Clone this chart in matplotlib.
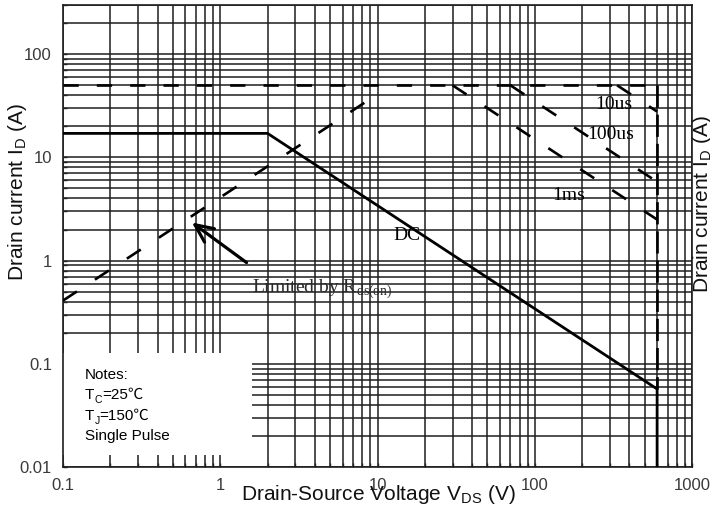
import matplotlib
matplotlib.use("Agg")
import matplotlib.pyplot as plt
from matplotlib.patches import Rectangle
from matplotlib.ticker import FixedLocator, FixedFormatter, NullFormatter

plt.rcParams['font.family'] = ['Liberation Sans', 'DejaVu Sans']
plt.rcParams['mathtext.fontset'] = 'custom'
plt.rcParams['mathtext.rm'] = 'Liberation Sans'
plt.rcParams['lines.scale_dashes'] = False

# axis ticks
x_ticks = [0.1, 1, 10, 100, 1000]
x_labels = ["0.1", "1", "10", "100", "1000"]
y_ticks = [0.01, 0.1, 1, 10, 100]
y_labels = ["0.01", "0.1", "1", "10", "100"]

# DC operation (package limit, then thermal limit, then BVdss)
dc_v = [0.1, 2.0, 600, 600]
dc_i = [17.1, 17.1, 0.057, 0.01]
# Rds(on) limit
rds_v = [0.1, 10]
rds_i = [0.41, 41]
# pulsed current limit / BVdss limit
ilim_v = [0.1, 600]
ilim_i = [50, 50]
vlim_v = [600, 600]
vlim_i = [50, 0.057]
# single pulse lines
p10us_v = [334, 600]
p10us_i = [50, 27.8]
p100us_v = [70, 600]
p100us_i = [50, 5.8]
p1ms_v = [30, 600]
p1ms_i = [50, 2.5]

W, H = 710, 513


def px(x, y):
    return x / W, 1 - y / H


fig = plt.figure(figsize=(W / 100, H / 100), dpi=100)
ax = fig.add_axes([63 / W, 1 - 467 / H, 629 / W, 462 / H])
ax.set_xscale('log')
ax.set_yscale('log')
ax.set_xlim(0.1, 1000)
ax.set_ylim(0.01, 300)

ax.xaxis.set_major_locator(FixedLocator(x_ticks))
ax.xaxis.set_major_formatter(FixedFormatter(x_labels))
ax.yaxis.set_major_locator(FixedLocator(y_ticks))
ax.yaxis.set_major_formatter(FixedFormatter(y_labels))
ax.xaxis.set_minor_formatter(NullFormatter())
ax.yaxis.set_minor_formatter(NullFormatter())
ax.tick_params(which='both', direction='in', length=3, width=1, color='#222222',
               labelsize=12, labelcolor='#3a3a3a', pad=8)
ax.set_axisbelow(True)
ax.grid(True, which='both', color='#1e1e1e', lw=1.1)
for s in ax.spines.values():
    s.set_color('#1e1e1e')
    s.set_linewidth(1.2)

# white box behind the notes
ax.add_patch(Rectangle((0.1, 0.0131), 1.585 - 0.1, 0.128 - 0.0131,
                       facecolor='white', edgecolor='none', zorder=1))

k = 'black'
ax.plot(dc_v, dc_i, color=k, lw=2.0, zorder=3)
ax.plot(rds_v, rds_i, color=k, lw=1.9, dashes=(12, 15.5), zorder=3)
ax.plot(ilim_v, ilim_i, color=k, lw=1.9, dashes=(11, 13), zorder=3)
ax.plot(vlim_v, vlim_i, color=k, lw=1.9, dashes=(16, 5), zorder=3)
for v, i in [(p10us_v, p10us_i), (p100us_v, p100us_i), (p1ms_v, p1ms_i)]:
    ax.plot(v, i, color=k, lw=1.9, dashes=(12, 15.5), zorder=3)

serif = 'Liberation Serif'
ax.text(320, 32.7, "10us", family=serif, fontsize=14, ha='center', va='center', zorder=4)
ax.text(306, 16.7, "100us", family=serif, fontsize=14, ha='center', va='center', zorder=4)
ax.text(165, 4.28, "1ms", family=serif, fontsize=14, ha='center', va='center', zorder=4)
ax.text(15.5, 1.75, "DC", family=serif, fontsize=14, ha='center', va='center', zorder=4)

plt.rcParams['mathtext.rm'] = 'Liberation Serif'
ax.text(1.585, 0.523, r"Limited by R$_{\mathregular{ds(on)}}$", family=serif,
        fontsize=14, color='#2a2a2a', ha='left', va='center', zorder=4)

ax.annotate('', xy=(0.66, 2.34), xytext=(1.47, 0.957),
            arrowprops=dict(arrowstyle='->,head_length=1.3,head_width=0.6',
                            lw=2.3, color=k, shrinkA=0, shrinkB=0), zorder=4)

# notes
notes_font = ['Liberation Sans', 'Noto Sans CJK SC']


def rich_text(x, y, parts, size=11):
    first = fig.text(*px(x, y), parts[0][0], fontsize=size, family=notes_font,
                     va='baseline', ha='left', zorder=5)
    prev = first
    for s, sub in parts[1:]:
        prev = fig.add_artist(matplotlib.text.Annotation(
            s, xy=(1, 0), xycoords=(prev, first),
            xytext=(0, -2.2 if sub else 0), textcoords='offset points',
            fontsize=size * 0.68 if sub else size, family=notes_font,
            va='bottom', ha='left', zorder=5))


rich_text(85, 379, [("Notes:", False)])
rich_text(85, 399, [("T", False), ("C", True), ("=25℃", False)])
rich_text(85, 420, [("T", False), ("J", True), ("=150℃", False)])
rich_text(85, 440, [("Single Pulse", False)])

plt.rcParams['mathtext.rm'] = 'Liberation Sans'
ylab = r"Drain current I$_{\mathregular{D}}$ (A)"
fig.text(*px(378, 495), r"Drain-Source Voltage V$_{\mathregular{DS}}$ (V)",
         fontsize=15, ha='center', va='center', color='#111111')
fig.text(*px(18, 192), ylab, fontsize=15, rotation=90, ha='center', va='center',
         color='#111111')
fig.text(*px(703, 204), ylab, fontsize=15, rotation=90, ha='center', va='center',
         color='#111111')

fig.savefig("out.png", dpi=100)
